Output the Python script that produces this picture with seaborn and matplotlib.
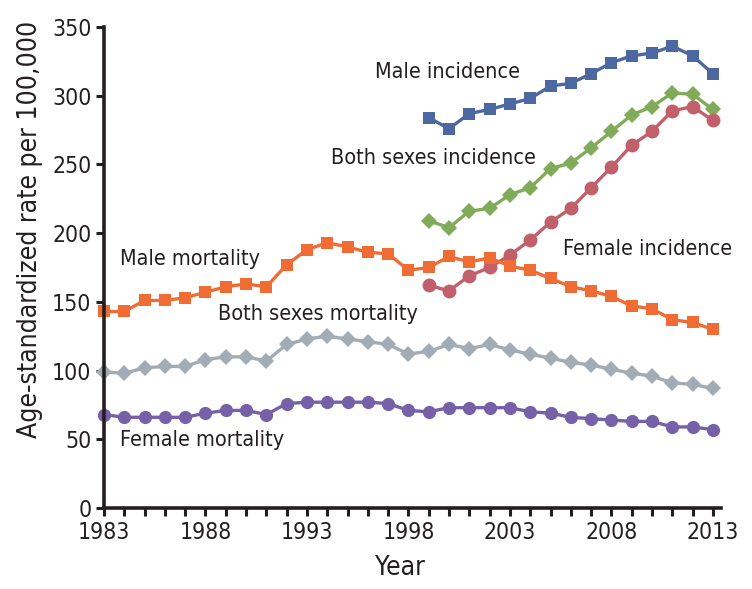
import numpy as np
import pandas as pd
import matplotlib
matplotlib.use("Agg")
import matplotlib.pyplot as plt
import seaborn as sns

# Years
years_all = list(range(1983, 2014))
years_inc = list(range(1999, 2014))

# Incidence (1999-2013)
male_incidence = [284, 276, 287, 290, 294, 298, 307, 309, 316, 324, 329, 331, 336, 329, 316]
both_incidence = [209, 204, 216, 218, 228, 233, 247, 251, 262, 274, 286, 292, 302, 301, 290]
female_incidence = [162, 158, 169, 175, 184, 195, 208, 218, 233, 248, 264, 274, 289, 292, 282]

# Mortality (1983-2013)
male_mortality = [143, 143, 151, 151, 153, 157, 161, 163, 161, 177, 188, 193, 190, 186, 185, 173,
                  175, 183, 179, 182, 176, 173, 167, 161, 158, 154, 147, 145, 137, 135, 130]
both_mortality = [99, 98, 102, 103, 103, 108, 110, 110, 107, 119, 123, 125, 123, 121, 119, 112,
                  114, 119, 116, 119, 115, 112, 109, 106, 104, 101, 98, 96, 91, 90, 87]
female_mortality = [68, 66, 66, 66, 66, 69, 71, 71, 68, 76, 77, 77, 77, 77, 76, 71,
                    70, 73, 73, 73, 73, 70, 69, 66, 65, 64, 63, 63, 59, 59, 57]

series_names = ["Male incidence", "Both sexes incidence", "Female incidence",
                "Male mortality", "Both sexes mortality", "Female mortality"]
colors = ["#4d68a0", "#80ab58", "#c1606b", "#f06c35", "#a2acb5", "#7660a8"]
markers = ["s", "D", "o", "s", "D", "o"]
msizes = [9, 8.5, 10, 9, 8.5, 9.5]

frames = []
for name, yrs, vals in [
    ("Male incidence", years_inc, male_incidence),
    ("Both sexes incidence", years_inc, both_incidence),
    ("Female incidence", years_inc, female_incidence),
    ("Male mortality", years_all, male_mortality),
    ("Both sexes mortality", years_all, both_mortality),
    ("Female mortality", years_all, female_mortality),
]:
    frames.append(pd.DataFrame({"Year": yrs, "Rate": vals, "Series": name}))
df = pd.concat(frames, ignore_index=True)

sns.set_style("ticks")
plt.rcParams["font.family"] = ["DejaVu Sans"]
plt.rcParams["font.stretch"] = "condensed"

fig = plt.figure(figsize=(7.52, 5.89), dpi=100)
ax = fig.add_axes([0.1383, 0.1375, 0.8205, 0.8167])

dark = "#231f20"
for name, c, m, ms in zip(series_names, colors, markers, msizes):
    sub = df[df["Series"] == name]
    sns.lineplot(data=sub, x="Year", y="Rate", color=c, marker=m, markersize=ms,
                 markeredgewidth=0, linewidth=2.4, ax=ax, clip_on=False, legend=False)

labels = [
    ("Male incidence", 1996.35, 317),
    ("Both sexes incidence", 1994.2, 255),
    ("Female incidence", 2005.6, 188.5),
    ("Male mortality", 1983.8, 181),
    ("Both sexes mortality", 1988.6, 141),
    ("Female mortality", 1983.8, 49.5),
]
for txt, x, y in labels:
    ax.text(x, y, txt, fontsize=15.5, color=dark, ha="left", va="center",
            fontstretch="condensed")

ax.set_xlim(1983, 2013.4)
ax.set_ylim(0, 350)
ax.set_xticks(range(1983, 2014, 5))
ax.set_xticks(range(1983, 2014), minor=True)
ax.set_yticks(range(0, 351, 50))
ax.tick_params(axis="both", which="both", direction="out", length=6, width=2.2,
               color=dark, labelcolor=dark, labelsize=16.5)
ax.tick_params(axis="x", pad=3)
ax.tick_params(axis="y", pad=3)

for s in ["top", "right"]:
    ax.spines[s].set_visible(False)
for s in ["left", "bottom"]:
    ax.spines[s].set_linewidth(2.6)
    ax.spines[s].set_color(dark)

ax.set_xlabel("")
ax.set_ylabel("")
fig.text(400 / 752, 1 - 568 / 589, "Year", fontsize=19, color=dark,
         ha="center", va="center", fontstretch="condensed")
fig.text(30 / 752, 1 - 229 / 589, "Age-standardized rate per 100,000", rotation=90,
         fontsize=19, color=dark, ha="center", va="center", fontstretch="condensed")

fig.savefig("out.png", dpi=100)
